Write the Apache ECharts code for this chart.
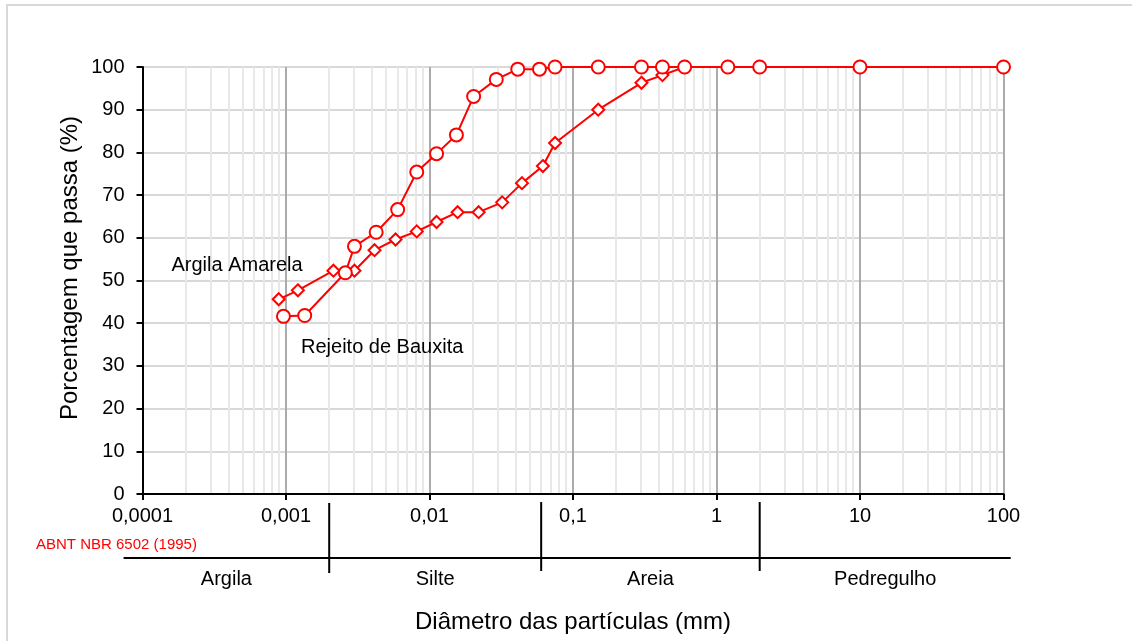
<!DOCTYPE html>
<html><head><meta charset="utf-8">
<script src="https://cdn.jsdelivr.net/npm/echarts@6/dist/echarts.min.js"></script>
<style>html,body{margin:0;padding:0;background:#fff}#c{width:1132px;height:641px}</style>
</head><body><div id="c"></div>
<script>
// Rejeito de Bauxita (circles)
const rejeitoDiam = [0.00096, 0.00135, 0.00259, 0.0030, 0.00425, 0.0060, 0.00815, 0.0112, 0.0154, 0.0203, 0.0292, 0.0412, 0.0584, 0.075, 0.15, 0.30, 0.42, 0.60, 1.2, 2.0, 10, 100];
const rejeitoPass = [41.6, 41.8, 51.8, 58.0, 61.3, 66.6, 75.4, 79.7, 84.1, 93.1, 97.1, 99.5, 99.5, 100, 100, 100, 100, 100, 100, 100, 100, 100];
// Argila Amarela (diamonds)
const argilaDiam = [0.00089, 0.00121, 0.00214, 0.0030, 0.00414, 0.0058, 0.00815, 0.0112, 0.0157, 0.022, 0.0321, 0.0441, 0.0617, 0.075, 0.15, 0.30, 0.42, 0.60, 1.2, 2.0, 10, 100];
const argilaPass = [45.6, 47.7, 52.3, 52.3, 57.1, 59.6, 61.5, 63.7, 66.0, 66.0, 68.3, 72.8, 76.8, 82.2, 90.0, 96.3, 98.1, 100, 100, 100, 100, 100];
// axis tick labels
const xTickValues = [0.0001, 0.001, 0.01, 0.1, 1, 10, 100];
const xTickLabels = ['0,0001', '0,001', '0,01', '0,1', '1', '10', '100'];
// ABNT NBR 6502 classification limits (mm) and names
const classLimits = [0.002, 0.06, 2];
const classNames = ['Argila', 'Silte', 'Areia', 'Pedregulho'];
const seriesNames = ['Rejeito de Bauxita', 'Argila Amarela'];

const FONT = "'Liberation Sans', Arial, sans-serif";
const minorGrid = [];
for (let k = -4; k < 2; k++) for (let m = 2; m <= 9; m++) minorGrid.push(m * Math.pow(10, k));

const chart = echarts.init(document.getElementById('c'), null, {renderer: 'canvas'});
const zip = (a, b) => a.map((v, i) => [v, b[i]]);
const lblFor = v => {
  const i = xTickValues.findIndex(t => Math.abs(Math.log10(t) - Math.log10(v)) < 1e-6);
  return i >= 0 ? xTickLabels[i] : '';
};
chart.setOption({
  animation: false,
  backgroundColor: '#fff',
  grid: {left: 142.5, right: 128.5, top: 67, bottom: 147, containLabel: false},
  xAxis: {
    type: 'log', logBase: 10, min: 0.0001, max: 100,
    axisLine: {show: true, onZero: false, lineStyle: {color: '#000', width: 2}},
    axisTick: {show: true, length: 6, lineStyle: {color: '#000', width: 2}},
    axisLabel: {color: '#000', fontSize: 20, fontFamily: FONT, margin: 12, formatter: lblFor},
    splitLine: {show: true, lineStyle: {color: '#ababab', width: 2}}
  },
  yAxis: {
    type: 'value', min: 0, max: 100, interval: 10,
    axisLine: {show: true, lineStyle: {color: '#000', width: 2}},
    axisTick: {show: true, length: 6, lineStyle: {color: '#000', width: 2}},
    axisLabel: {color: '#000', fontSize: 20, fontFamily: FONT, margin: 18},
    splitLine: {show: true, lineStyle: {color: '#d9d9d9', width: 2}}
  },
  series: [
    {
      name: seriesNames[1], type: 'line', data: zip(argilaDiam, argilaPass), z: 3,
      symbol: 'emptyDiamond', symbolSize: 12,
      itemStyle: {color: '#ff0000', borderColor: '#ff0000', borderWidth: 2},
      lineStyle: {color: '#ff0000', width: 2}
    },
    {
      name: seriesNames[0], type: 'line', data: zip(rejeitoDiam, rejeitoPass), z: 4,
      symbol: 'emptyCircle', symbolSize: 13,
      itemStyle: {color: '#ff0000', borderColor: '#ff0000', borderWidth: 2},
      lineStyle: {color: '#ff0000', width: 2}
    }
  ]
});

// elements positioned through the axis scales
const px = v => chart.convertToPixel({xAxisIndex: 0}, v);
const py = v => chart.convertToPixel({yAxisIndex: 0}, v);
const yTop = py(100), yBot = py(0);
const barLeft = 123.6, barRight = 1010.7, barY = 558;
const sepX = classLimits.map(px);
const bounds = [barLeft, ...sepX, barRight];
const g = [
  {type: 'rect', shape: {x: 7, y: 5, width: 1200, height: 700}, style: {fill: 'none', stroke: '#d9d9d9', lineWidth: 2}, silent: true, z: -10},
  {type: 'line', z: 100, shape: {x1: barLeft, y1: barY, x2: barRight, y2: barY}, style: {stroke: '#000', lineWidth: 2}},
  {type: 'text', z: 100, x: 36, y: 545, style: {text: 'ABNT NBR 6502 (1995)', fill: '#ff0000', font: '15px ' + FONT, textAlign: 'left', textVerticalAlign: 'middle'}},
  {type: 'text', z: 100, x: 70, y: 268, rotation: Math.PI / 2, style: {text: 'Porcentagem que passa (%)', fill: '#000', font: '24px ' + FONT, textAlign: 'center', textVerticalAlign: 'middle'}},
  {type: 'text', z: 100, x: 573, y: 622, style: {text: 'Diâmetro das partículas (mm)', fill: '#000', font: '24px ' + FONT, textAlign: 'center', textVerticalAlign: 'middle'}},
  {type: 'text', z: 100, x: 171.5, y: 265, style: {text: seriesNames[1], fill: '#000', font: '20px ' + FONT, textAlign: 'left', textVerticalAlign: 'middle'}},
  {type: 'text', z: 100, x: 301, y: 347, style: {text: seriesNames[0], fill: '#000', font: '20px ' + FONT, textAlign: 'left', textVerticalAlign: 'middle'}}
];
minorGrid.forEach(v => {
  const x = Math.round(px(v));
  g.push({type: 'line', z: 1, silent: true, shape: {x1: x, y1: yTop, x2: x, y2: yBot - 1}, style: {stroke: '#e8e8e8', lineWidth: 2}});
});
sepX.forEach((x, i) => {
  g.push({type: 'line', z: 100, shape: {x1: x, y1: i === 0 ? 503 : 502, x2: x, y2: i === 0 ? 573 : 571}, style: {stroke: '#000', lineWidth: 2}});
});
classNames.forEach((n, i) => {
  g.push({type: 'text', z: 100, x: (bounds[i] + bounds[i + 1]) / 2, y: 579, style: {text: n, fill: '#000', font: '20px ' + FONT, textAlign: 'center', textVerticalAlign: 'middle'}});
});
chart.setOption({graphic: g});
</script>
</body></html>
